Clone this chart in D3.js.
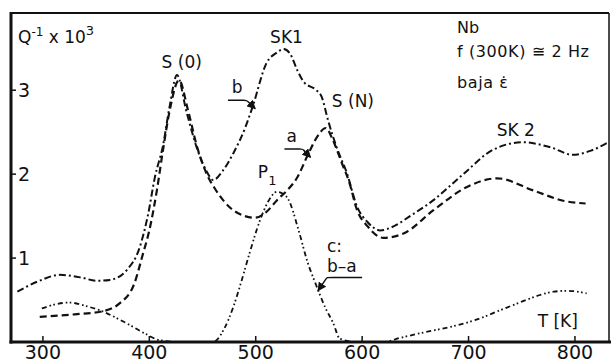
<!DOCTYPE html>
<html>
<head>
<meta charset="utf-8">
<script src="https://d3js.org/d3.v7.min.js"></script>
<style>
  body { margin: 0; background: #fff; }
  svg { display: block; font-family: "DejaVu Sans", sans-serif; }
  .lbl { font-size: 17px; fill: #111; }
  .tick { font-size: 19px; fill: #111; }
</style>
</head>
<body>
<div id="chart"></div>
<script>
// Curve a (dashed)
var tempA = [297, 330, 354, 372, 386, 394, 400, 407, 413, 419, 428, 436, 445, 454, 462, 476, 490, 499, 510, 520, 529, 539, 549, 558, 566, 572, 581, 588, 595, 605, 620, 640, 667, 699, 727, 760, 790, 810];
var qA    = [0.30, 0.33, 0.36, 0.46, 0.70, 1.05, 1.33, 1.80, 2.30, 2.75, 3.12, 2.78, 2.32, 2.00, 1.82, 1.60, 1.50, 1.48, 1.55, 1.69, 1.80, 1.96, 2.23, 2.45, 2.55, 2.42, 2.13, 1.90, 1.58, 1.38, 1.24, 1.30, 1.57, 1.85, 1.95, 1.81, 1.68, 1.65];

// Curve b (dash-dot)
var tempB = [276, 295, 316, 335, 351, 363, 379, 391, 399, 405, 413, 419, 426, 435, 445, 454, 460, 469, 479, 490, 497, 510, 520, 526, 532, 539, 545, 557, 562, 568, 576, 586, 595, 605, 617, 630, 645, 667, 695, 723, 751, 777, 798, 815, 830];
var qB    = [0.60, 0.72, 0.80, 0.77, 0.73, 0.74, 0.86, 1.13, 1.53, 1.95, 2.35, 2.80, 3.18, 2.74, 2.30, 2.03, 1.93, 2.04, 2.25, 2.55, 2.80, 3.32, 3.45, 3.49, 3.44, 3.24, 3.10, 3.00, 2.92, 2.64, 2.32, 2.00, 1.62, 1.43, 1.33, 1.38, 1.50, 1.69, 2.00, 2.29, 2.38, 2.32, 2.23, 2.28, 2.37];

// Curve c = b - a (dash-dot-dot)
var tempC = [299, 312, 325, 340, 357, 370, 382, 396, 410, 430, 460, 470, 479, 486, 494, 504, 512, 520, 529, 541, 548, 557, 565, 573, 579, 595, 620, 636, 660, 683, 706, 730, 750, 767, 780, 793, 811];
var qC    = [0.40, 0.45, 0.47, 0.43, 0.36, 0.28, 0.20, 0.10, 0.02, 0, 0, 0.15, 0.42, 0.70, 1.05, 1.45, 1.68, 1.79, 1.73, 1.30, 0.98, 0.67, 0.42, 0.22, 0.04, 0, 0, 0.05, 0.12, 0.18, 0.26, 0.38, 0.48, 0.56, 0.60, 0.61, 0.58];

var xTicks = [300, 400, 500, 600, 700, 800];
var yTicks = [1, 2, 3];

var width = 611, height = 363;
// plot box edges (avoid the name "top", it is window.top)
var plotL = 11, plotR = 609, plotT = 13, plotB = 342;

var svg = d3.select("#chart").append("svg")
    .attr("width", width)
    .attr("height", height);

var x = d3.scaleLinear().domain([270, 832]).range([plotL, plotR]);
var y = d3.scaleLinear().domain([0, 3.92]).range([plotB, plotT]);

// clip to plot area
svg.append("clipPath").attr("id", "plot")
  .append("rect")
    .attr("x", plotL).attr("y", plotT)
    .attr("width", plotR - plotL).attr("height", plotB - plotT);

var line = d3.line()
    .x(function(d) { return x(d[0]); })
    .y(function(d) { return y(d[1]); })
    .curve(d3.curveMonotoneX);

function pairs(ts, qs) {
  return ts.map(function(t, i) { return [t, qs[i]]; });
}

var curves = [
  { data: pairs(tempA, qA), dash: "7,4", w: 2.2 },
  { data: pairs(tempB, qB), dash: "7,3,2,3", w: 2 },
  { data: pairs(tempC, qC), dash: "5,3,1.6,2.4,1.6,3", w: 1.8 }
];

svg.append("g").attr("clip-path", "url(#plot)")
  .selectAll("path")
  .data(curves)
  .enter().append("path")
    .attr("d", function(d) { return line(d.data); })
    .attr("fill", "none")
    .attr("stroke", "#111")
    .attr("stroke-width", function(d) { return d.w; })
    .attr("stroke-dasharray", function(d) { return d.dash; });

// frame
svg.append("line").attr("x1", plotL - 1).attr("x2", plotR).attr("y1", plotT).attr("y2", plotT)
    .attr("stroke", "#111").attr("stroke-width", 2);
svg.append("line").attr("x1", plotR).attr("x2", plotR).attr("y1", plotT).attr("y2", plotB)
    .attr("stroke", "#111").attr("stroke-width", 1.5);
svg.append("line").attr("x1", plotL).attr("x2", plotL).attr("y1", plotT - 1).attr("y2", plotB + 1.5)
    .attr("stroke", "#111").attr("stroke-width", 3);
svg.append("line").attr("x1", plotL - 1.5).attr("x2", width).attr("y1", plotB).attr("y2", plotB)
    .attr("stroke", "#111").attr("stroke-width", 3);

// x ticks (inward) and labels
var xt = svg.append("g").selectAll("g").data(xTicks).enter().append("g");
xt.append("line")
    .attr("x1", function(d) { return x(d); }).attr("x2", function(d) { return x(d); })
    .attr("y1", plotB).attr("y2", plotB - 6)
    .attr("stroke", "#111").attr("stroke-width", 1.5);
xt.append("text").attr("class", "tick")
    .attr("x", function(d) { return x(d); })
    .attr("y", 359)
    .attr("text-anchor", "middle")
    .text(function(d) { return d; });

// y ticks (inward) and labels
var yt = svg.append("g").selectAll("g").data(yTicks).enter().append("g");
yt.append("line")
    .attr("x1", plotL).attr("x2", plotL + 5)
    .attr("y1", function(d) { return y(d); }).attr("y2", function(d) { return y(d); })
    .attr("stroke", "#111").attr("stroke-width", 1.5);
yt.append("text").attr("class", "tick")
    .attr("x", plotL + 7)
    .attr("y", function(d) { return y(d) + 7; })
    .text(function(d) { return d; });

// y axis title
var qt = svg.append("text").attr("class", "lbl").attr("x", 18).attr("y", 43).style("font-size", "17px");
qt.append("tspan").text("Q");
qt.append("tspan").attr("dy", -7).style("font-size", "12px").text("-1");
qt.append("tspan").attr("dy", 7).text(" x 10");
qt.append("tspan").attr("dy", -8).style("font-size", "13px").text("3");

// curve labels, placed in data units
var labels = [
  { t: 411.5, q: 3.27, s: "S (0)" },
  { t: 513.5, q: 3.56, s: "SK1" },
  { t: 571.5, q: 2.80, s: "S (N)" },
  { t: 726.5, q: 2.46, s: "SK 2" },
  { t: 477.5, q: 2.97, s: "b" },
  { t: 529.0, q: 2.38, s: "a" },
  { t: 567.0, q: 1.07, s: "c:" },
  { t: 567.0, q: 0.83, s: "b\u2013a" },
  { t: 765.0, q: 0.18, s: "T  [K]" }
];
svg.append("g").selectAll("text").data(labels).enter().append("text")
    .attr("class", "lbl")
    .attr("x", function(d) { return x(d.t); })
    .attr("y", function(d) { return y(d.q); })
    .text(function(d) { return d.s; });

// P1 with subscript
var p1 = svg.append("text").attr("class", "lbl").attr("x", x(502)).attr("y", y(1.95));
p1.append("tspan").text("P");
p1.append("tspan").attr("dy", 7).style("font-size", "13px").text("1");

// leader arrows
var leaders = [
  [[473.9, 2.88], [491.5, 2.88], [499.5, 2.78]],
  [[527.0, 2.30], [544.0, 2.30], [551.5, 2.20]],
  [[600.0, 0.77], [567.0, 0.77], [558.5, 0.61]]
];
svg.append("defs").append("marker")
    .attr("id", "arr").attr("viewBox", "0 0 10 10")
    .attr("refX", 9).attr("refY", 5)
    .attr("markerWidth", 6).attr("markerHeight", 6)
    .attr("orient", "auto")
  .append("path").attr("d", "M0,0L10,5L0,10z").attr("fill", "#111");

var leaderLine = d3.line()
    .x(function(d) { return x(d[0]); })
    .y(function(d) { return y(d[1]); })
    .curve(d3.curveBasis);
svg.append("g").selectAll("path").data(leaders).enter().append("path")
    .attr("d", function(d) { return leaderLine([d[0], d[1], d[1], d[2]]); })
    .attr("fill", "none").attr("stroke", "#111").attr("stroke-width", 1.5)
    .attr("marker-end", "url(#arr)");

// info block, top right
var info = svg.append("g").attr("class", "lbl").style("font-size", "16px");
info.append("text").attr("x", 457).attr("y", 33).text("Nb");
info.append("text").attr("x", 457).attr("y", 57).style("letter-spacing", "0.6px").text("f (300K) \u2245 2 Hz");
info.append("text").attr("x", 457).attr("y", 88).style("letter-spacing", "0.6px").text("baja \u03b5\u0307");
</script>
</body>
</html>
